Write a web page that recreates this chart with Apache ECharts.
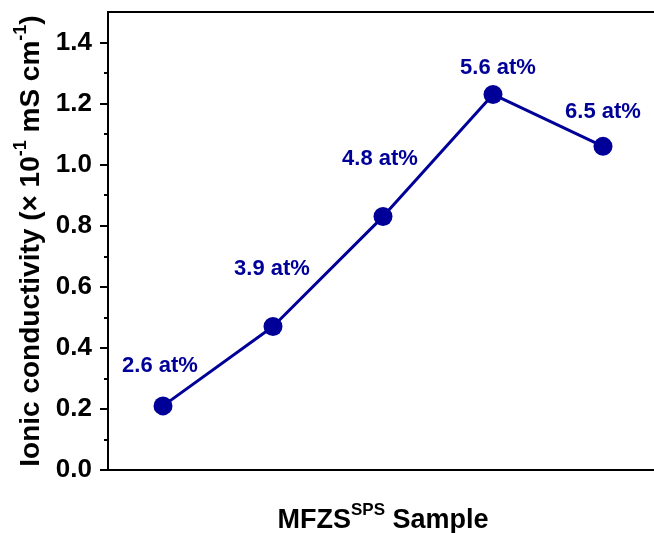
<!DOCTYPE html>
<html>
<head>
<meta charset="utf-8">
<script src="https://cdn.jsdelivr.net/npm/echarts@6/dist/echarts.min.js"></script>
<style>
  html, body { margin: 0; padding: 0; background: #fff; }
  #chart { width: 654px; height: 533px; }
</style>
</head>
<body>
<div id="chart"></div>
<script>
// Samples (evenly spaced along x) with their dopant content
const sampleIndex = [1, 2, 3, 4, 5];
const dopantContent = [2.6, 3.9, 4.8, 5.6, 6.5]; // at%
const conductivity = [0.21, 0.47, 0.83, 1.23, 1.06]; // x 10^-1 mS cm^-1

// Axis ticks
const yMajorTicks = [0, 0.2, 0.4, 0.6, 0.8, 1.0, 1.2, 1.4];
const yMinorTicks = [0.1, 0.3, 0.5, 0.7, 0.9, 1.1, 1.3];

// Label placement relative to each marker (pixels)
const labelOffsets = [[-3, -40], [-1, -58], [-3, -58], [5, -27], [0, -34]];

const BLUE = '#000099';
const FONT = '"Liberation Sans", Arial, sans-serif';

const points = sampleIndex.map((x, i) => ({
  value: [x, conductivity[i]],
  label: {
    show: true,
    position: 'inside',
    offset: labelOffsets[i],
    formatter: dopantContent[i].toFixed(1) + ' at%'
  }
}));

const xNameRich = {
  b: { fontFamily: FONT, fontWeight: 'bold', fontSize: 27, color: '#000', lineHeight: 32, verticalAlign: 'bottom' },
  sup: { fontFamily: FONT, fontWeight: 'bold', fontSize: 17, color: '#000', lineHeight: 32, verticalAlign: 'top' }
};
const yNameRich = {
  b: { fontFamily: FONT, fontWeight: 'bold', fontSize: 28, color: '#000', lineHeight: 33, verticalAlign: 'bottom' },
  sup: { fontFamily: FONT, fontWeight: 'bold', fontSize: 18, color: '#000', lineHeight: 33, verticalAlign: 'top' }
};

const chart = echarts.init(document.getElementById('chart'), null, { renderer: 'canvas' });

chart.setOption({
  animation: false,
  backgroundColor: '#fff',
  textStyle: { fontFamily: FONT },
  grid: {
    left: 108, top: 12, width: 550, height: 458,
    outerBoundsMode: 'none',
    containLabel: false,
    show: true, borderColor: '#000', borderWidth: 2, backgroundColor: 'transparent'
  },
  xAxis: {
    type: 'value',
    min: 0.5, max: 5.5,
    axisLine: { show: true, lineStyle: { color: '#000', width: 2 } },
    axisTick: { show: false },
    axisLabel: { show: false },
    splitLine: { show: false },
    name: '{b|MFZS}{sup|SPS}{b| Sample}',
    nameLocation: 'middle',
    nameGap: 32,
    nameTextStyle: { rich: xNameRich }
  },
  yAxis: [
    {
      type: 'value',
      min: 0, max: 1.5,
      position: 'left',
      axisLine: { show: true, lineStyle: { color: '#000', width: 2 } },
      axisTick: { show: true, inside: false, length: 8, lineStyle: { color: '#000', width: 2 }, customValues: yMajorTicks },
      axisLabel: {
        show: true, customValues: yMajorTicks, margin: 16,
        color: '#000', fontFamily: FONT, fontWeight: 'bold', fontSize: 26,
        formatter: v => v.toFixed(1)
      },
      splitLine: { show: false },
      name: '{b|Ionic conductivity (× 10}{sup|-1}{b| mS cm}{sup|-1}{b|)}',
      nameLocation: 'middle',
      nameGap: 57,
      nameTextStyle: { rich: yNameRich }
    },
    {
      type: 'value',
      min: 0, max: 1.5,
      position: 'left',
      axisLine: { show: false },
      axisTick: { show: true, inside: false, length: 4, lineStyle: { color: '#000', width: 2 }, customValues: yMinorTicks },
      axisLabel: { show: false },
      splitLine: { show: false }
    }
  ],
  series: [{
    type: 'line',
    yAxisIndex: 0,
    data: points,
    symbol: 'circle',
    symbolSize: 19,
    itemStyle: { color: BLUE },
    lineStyle: { color: BLUE, width: 3 },
    label: {
      color: BLUE, fontFamily: FONT, fontWeight: 'bold', fontSize: 22
    },
    z: 3
  }]
});
</script>
</body>
</html>
